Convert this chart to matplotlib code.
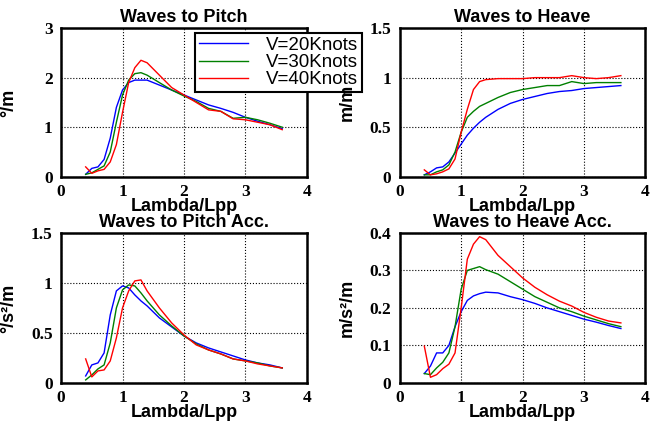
import numpy as np
import matplotlib
matplotlib.use('Agg')
import matplotlib.pyplot as plt

# wavelength / ship length
lam = [0.4, 0.5, 0.6, 0.7, 0.8, 0.9, 1.0, 1.1, 1.2, 1.3, 1.4, 1.6, 1.8,
       2.0, 2.2, 2.4, 2.6, 2.8, 3.0, 3.2, 3.4, 3.6]

speeds = ['V=20Knots', 'V=30Knots', 'V=40Knots']
colors = ['#0000ff', '#008000', '#ff0000']

pitch_20 = [0.05, 0.17, 0.20, 0.35, 0.78, 1.40, 1.75, 1.90, 1.95, 1.95, 1.95, 1.85, 1.75,
            1.65, 1.55, 1.45, 1.38, 1.30, 1.20, 1.12, 1.05, 0.97]
pitch_30 = [0.05, 0.08, 0.15, 0.22, 0.50, 1.10, 1.65, 1.95, 2.08, 2.10, 2.05, 1.90, 1.75,
            1.63, 1.52, 1.38, 1.32, 1.18, 1.20, 1.15, 1.08, 1.00]
pitch_40 = [0.20, 0.07, 0.12, 0.15, 0.30, 0.65, 1.30, 1.90, 2.20, 2.35, 2.30, 2.05, 1.80,
            1.65, 1.50, 1.35, 1.32, 1.17, 1.15, 1.10, 1.05, 0.95]

heave_20 = [0.02, 0.05, 0.09, 0.10, 0.15, 0.24, 0.33, 0.42, 0.49, 0.55, 0.60, 0.68, 0.74,
            0.78, 0.81, 0.84, 0.86, 0.87, 0.89, 0.90, 0.91, 0.92]
heave_30 = [0.02, 0.02, 0.05, 0.07, 0.12, 0.25, 0.45, 0.60, 0.66, 0.71, 0.74, 0.80, 0.85,
            0.88, 0.90, 0.92, 0.92, 0.96, 0.94, 0.95, 0.95, 0.95]
heave_40 = [0.07, 0.02, 0.03, 0.05, 0.08, 0.18, 0.45, 0.68, 0.88, 0.96, 0.98, 0.99, 0.99,
            0.99, 1.00, 1.00, 1.00, 1.02, 1.00, 0.99, 1.00, 1.02]

pacc_20 = [0.07, 0.18, 0.20, 0.30, 0.68, 0.92, 0.97, 0.95, 0.88, 0.82, 0.77, 0.65, 0.56,
           0.47, 0.40, 0.35, 0.31, 0.27, 0.23, 0.20, 0.18, 0.15]
pacc_30 = [0.03, 0.08, 0.14, 0.18, 0.40, 0.75, 0.93, 0.98, 0.97, 0.90, 0.82, 0.68, 0.57,
           0.47, 0.39, 0.33, 0.29, 0.24, 0.22, 0.20, 0.17, 0.15]
pacc_40 = [0.24, 0.06, 0.12, 0.13, 0.22, 0.45, 0.75, 0.92, 1.02, 1.03, 0.92, 0.75, 0.60,
           0.48, 0.38, 0.33, 0.29, 0.24, 0.22, 0.19, 0.17, 0.15]

hacc_20 = [0.025, 0.045, 0.080, 0.080, 0.100, 0.150, 0.190, 0.220, 0.232, 0.238, 0.242, 0.240, 0.230,
           0.222, 0.212, 0.200, 0.190, 0.180, 0.170, 0.162, 0.153, 0.145]
hacc_30 = [0.025, 0.022, 0.040, 0.055, 0.080, 0.150, 0.250, 0.300, 0.305, 0.310, 0.302, 0.290, 0.270,
           0.250, 0.230, 0.215, 0.200, 0.190, 0.178, 0.168, 0.158, 0.150]
hacc_40 = [0.098, 0.015, 0.022, 0.038, 0.050, 0.080, 0.200, 0.330, 0.370, 0.390, 0.382, 0.340, 0.310,
           0.280, 0.255, 0.235, 0.218, 0.205, 0.188, 0.175, 0.165, 0.160]

panels = [
    ('Waves to Pitch', '°/m', [pitch_20, pitch_30, pitch_40], [0, 1, 2, 3], ['0', '1', '2', '3']),
    ('Waves to Heave', 'm/m', [heave_20, heave_30, heave_40], [0, 0.5, 1, 1.5], ['0', '0.5', '1', '1.5']),
    ('Waves to Pitch Acc.', '°/s²/m', [pacc_20, pacc_30, pacc_40], [0, 0.5, 1, 1.5], ['0', '0.5', '1', '1.5']),
    ('Waves to Heave Acc.', 'm/s²/m', [hacc_20, hacc_30, hacc_40], [0, 0.1, 0.2, 0.3, 0.4],
     ['0', '0.1', '0.2', '0.3', '0.4']),
]
xticks = [0, 1, 2, 3, 4]

fig = plt.figure(figsize=(6.5, 4.25), dpi=100)
rects = [
    [0.094, 0.584, 0.378, 0.350],
    [0.615, 0.584, 0.378, 0.350],
    [0.094, 0.099, 0.378, 0.353],
    [0.615, 0.099, 0.378, 0.353],
]

sans = 'Liberation Sans'
serif = 'Liberation Serif'
axes = []
for rect, (title, ylab, series, yt, ytl) in zip(rects, panels):
    ax = fig.add_axes(rect)
    axes.append(ax)
    for s, c, name in zip(series, colors, speeds):
        ax.plot(lam, s, color=c, lw=1.0, label=name)
    ax.set_xlim(0, 4)
    ax.set_ylim(yt[0], yt[-1])
    ax.set_xticks(xticks)
    ax.set_xticklabels([str(t) for t in xticks], family=serif, weight='bold', fontsize=12.5)
    ax.set_yticks(yt)
    ax.set_yticklabels(ytl, family=serif, weight='bold', fontsize=12.5)
    ax.tick_params(axis='y', length=0, pad=6)
    ax.tick_params(axis='x', length=0, pad=5)
    ax.grid(True, color='black', linestyle=':', linewidth=0.8)
    for sp in ax.spines.values():
        sp.set_linewidth(1.8)
    ax.set_title(title, family=sans, weight='bold', fontsize=13, pad=4)
    ax.set_xlabel('Lambda/Lpp', family=sans, weight='bold', fontsize=13, labelpad=-1)
    ax.set_ylabel(ylab, family=sans, weight='bold', fontsize=13)
    ax.yaxis.set_label_coords(-0.18, 0.5)

leg = axes[0].legend(loc='upper left', bbox_to_anchor=(0.300, 0.922), bbox_transform=fig.transFigure,
                     borderaxespad=0, fancybox=False, framealpha=1, edgecolor='black',
                     prop={'family': sans, 'size': 13.5}, labelspacing=0.0, borderpad=0.2,
                     handlelength=2.6, handletextpad=1.0)
leg.get_frame().set_linewidth(1.5)
leg.set_zorder(10)

fig.savefig('out.png', dpi=100)
